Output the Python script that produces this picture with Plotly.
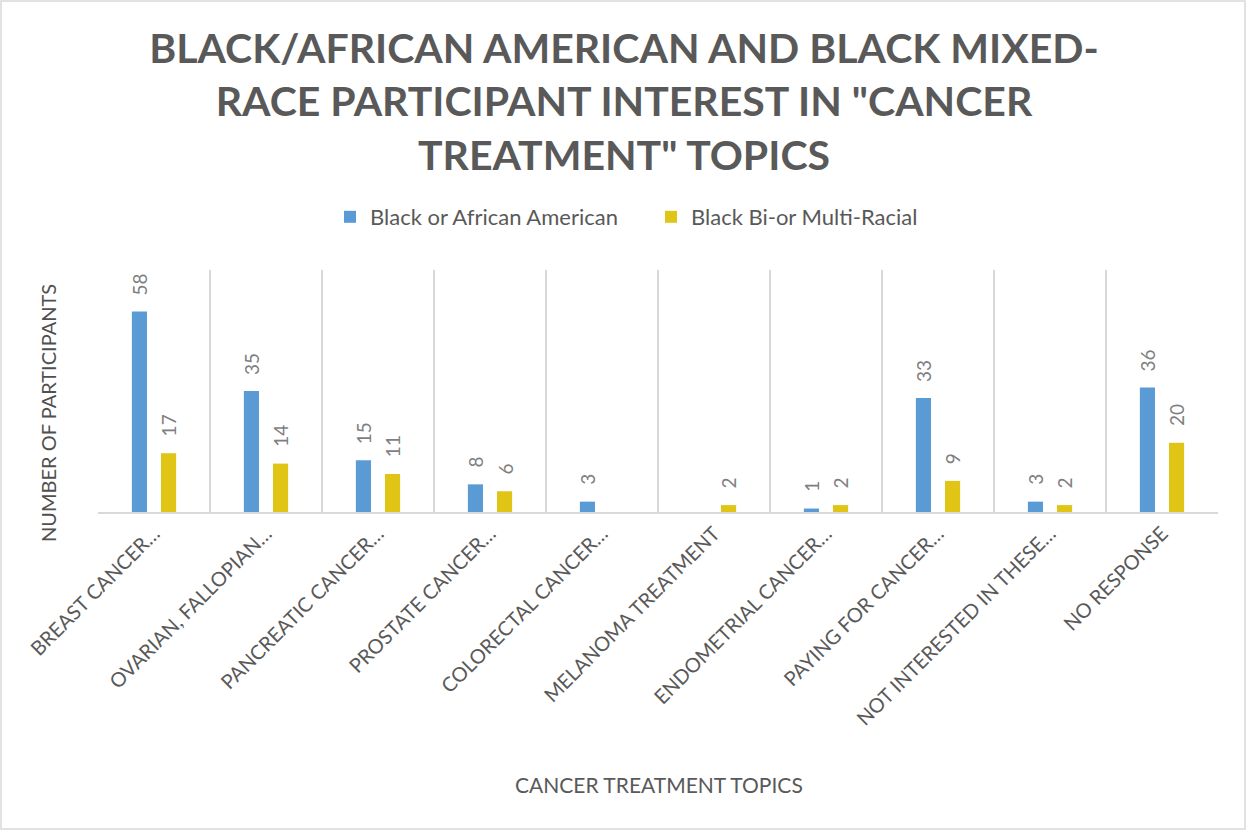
import plotly.graph_objects as go

# Topic categories (axis labels as displayed, truncated)
topics = [
    "BREAST CANCER…",
    "OVARIAN, FALLOPIAN…",
    "PANCREATIC CANCER…",
    "PROSTATE CANCER…",
    "COLORECTAL CANCER…",
    "MELANOMA TREATMENT",
    "ENDOMETRIAL CANCER…",
    "PAYING FOR CANCER…",
    "NOT INTERESTED IN THESE…",
    "NO RESPONSE",
]

# Participant counts per group (None = no responses)
black_african_american = [58, 35, 15, 8, 3, None, 1, 33, 3, 36]
black_multiracial = [17, 14, 11, 6, None, 2, 2, 9, 2, 20]

series_names = ["Black or African American", "Black Bi-or Multi-Racial"]
series_colors = ["#5B9BD5", "#E0C517"]
series_values = [black_african_american, black_multiracial]

FONT = "Lato"
GREY = "#595959"
LABEL_GREY = "#7F7F7F"

# Pixel geometry of the plotting area
W, H = 1247, 832
L, R, T, B = 98, 29, 270, 320
PW, PH = W - L - R, H - T - B
BARGAP = 0.48
SLOT_OFFSET = PW / len(topics) * (1 - BARGAP) / 4  # px from category centre to bar centre


def px_x(x):
    return (x - L) / PW


def px_y(y):
    return (H - B - y) / PH


fig = go.Figure()
for name, vals, col in zip(series_names, series_values, series_colors):
    fig.add_trace(go.Bar(
        x=topics,
        y=vals,
        name=name,
        marker=dict(color=col, line=dict(width=0)),
        showlegend=False,
    ))

# Square legend swatches
for name, col in zip(series_names, series_colors):
    fig.add_trace(go.Scatter(
        x=[None], y=[None], mode="markers", name=name,
        marker=dict(symbol="square", size=12, color=col),
        showlegend=True,
    ))

# Rotated value labels sitting above each bar
annotations = []
for k, vals in enumerate(series_values):
    shift = -SLOT_OFFSET if k == 0 else SLOT_OFFSET
    for cat, v in zip(topics, vals):
        if v is None:
            continue
        s = str(v)
        annotations.append(dict(
            x=cat, y=v, xref="x", yref="y",
            text=s, showarrow=False, textangle=-90,
            xanchor="center", yanchor="middle",
            xshift=shift, yshift=17 + len(s) * 5.2,
            font=dict(family=FONT, size=19, color=LABEL_GREY),
        ))

annotations += [
    dict(
        text="NUMBER OF PARTICIPANTS",
        xref="paper", yref="paper",
        x=px_x(48), y=px_y(413),
        xanchor="center", yanchor="middle",
        textangle=-90, showarrow=False,
        font=dict(family=FONT, size=20, color="#505050"),
    ),
    dict(
        text="CANCER TREATMENT TOPICS",
        xref="paper", yref="paper",
        x=px_x(659), y=px_y(785),
        xanchor="center", yanchor="middle",
        showarrow=False,
        font=dict(family=FONT, size=21, color=GREY),
    ),
]

fig.update_layout(
    width=W,
    height=H,
    margin=dict(l=L, r=R, t=T, b=B),
    paper_bgcolor="white",
    plot_bgcolor="white",
    barmode="group",
    bargap=BARGAP,
    bargroupgap=0.48,
    title=dict(
        text="BLACK/AFRICAN AMERICAN AND BLACK MIXED-<br>RACE PARTICIPANT INTEREST IN \"CANCER<br>TREATMENT\" TOPICS",
        x=px_x(624), xref="paper", xanchor="center",
        y=1 - 63 / H, yref="container", yanchor="top",
        font=dict(family=FONT, size=41, color=GREY, weight="bold"),
    ),
    legend=dict(
        orientation="h",
        x=px_x(330), xanchor="left",
        y=1 + (T - 217) / PH, yanchor="middle",
        font=dict(family=FONT, size=22, color=GREY),
        itemwidth=30,
        entrywidth=276,
        traceorder="normal",
    ),
    xaxis=dict(
        type="category",
        tickson="boundaries",
        showgrid=True,
        gridcolor="#D9D9D9",
        gridwidth=1.5,
        ticks="",
        showline=True,
        linecolor="#D9D9D9",
        linewidth=2,
        tickangle=-45,
        tickfont=dict(family=FONT, size=20, color=GREY),
        range=[-0.5, len(topics) - 0.5],
    ),
    yaxis=dict(
        range=[0, 70],
        showgrid=False,
        zeroline=False,
        showticklabels=False,
        showline=False,
        ticks="",
    ),
    annotations=annotations,
    shapes=[
        dict(
            type="rect", xref="paper", yref="paper",
            x0=px_x(1), x1=px_x(1245), y0=px_y(829), y1=px_y(1),
            line=dict(color="#D9D9D9", width=1.5),
            fillcolor="rgba(0,0,0,0)",
            layer="below",
        )
    ],
)

fig.write_html("out.html")
